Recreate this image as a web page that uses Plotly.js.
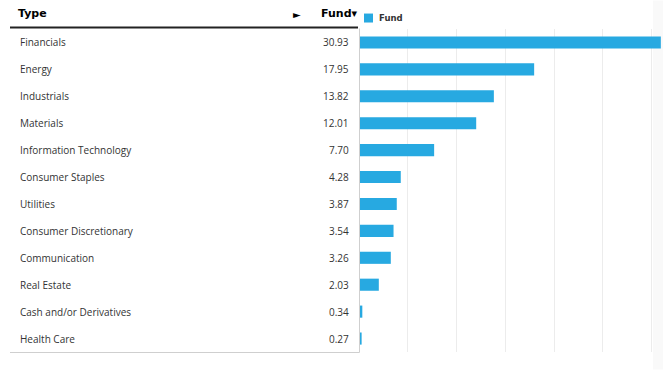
<!DOCTYPE html>
<html><head><meta charset="utf-8">
<script src="https://cdn.plot.ly/plotly-3.0.1.min.js"></script>
<style>html,body{margin:0;padding:0;background:#fff}#chart{width:663px;height:370px}</style>
</head><body><div id="chart"></div>
<script>
const categories = ["Financials","Energy","Industrials","Materials","Information Technology","Consumer Staples","Utilities","Consumer Discretionary","Communication","Real Estate","Cash and/or Derivatives","Health Care"];
const fundValues = [30.93,17.95,13.82,12.01,7.70,4.28,3.87,3.54,3.26,2.03,0.34,0.27];
const valueLabels = ["30.93","17.95","13.82","12.01","7.70","4.28","3.87","3.54","3.26","2.03","0.34","0.27"];
const seriesName = "Fund";
const barColor = "#27a9e1";

const W = 663, H = 370, L = 359, T = 28.5, B = 17.5;
const px = v => (v - L) / (W - L - 1);
const py = v => (H - B - v) / (H - T - B);
const txtFont = {family: "Open Sans, sans-serif", size: 10, color: "#333"};
const annotations = [];
categories.forEach((c, i) => {
  annotations.push({xref: "paper", yref: "y", x: px(18), y: c, text: c, showarrow: false, xanchor: "left", yanchor: "middle", font: txtFont});
  annotations.push({xref: "paper", yref: "y", x: px(351), y: c, text: valueLabels[i], showarrow: false, xanchor: "right", yanchor: "middle", font: txtFont});
});
const hdr = {family: "DejaVu Sans, sans-serif", size: 11, color: "#000", weight: 900};
annotations.push({xref: "paper", yref: "paper", x: px(16), y: py(13), text: "<b>Type</b>", showarrow: false, xanchor: "left", yanchor: "middle", font: hdr});
annotations.push({xref: "paper", yref: "paper", x: px(297), y: py(14), text: "►", showarrow: false, xanchor: "center", yanchor: "middle", font: {family: "DejaVu Sans, sans-serif", size: 10, color: "#000"}});
annotations.push({xref: "paper", yref: "paper", x: px(360), y: py(13), text: "<b>Fund▾</b>", showarrow: false, xanchor: "right", yanchor: "middle", font: hdr});
// legend
annotations.push({xref: "paper", yref: "paper", x: px(377), y: py(17), text: "<b>" + seriesName + "</b>", showarrow: false, xanchor: "left", yanchor: "middle", font: {family: "DejaVu Sans, sans-serif", size: 8.5, color: "#333"}});

const shapes = [
  {type: "line", xref: "paper", yref: "paper", x0: px(10), x1: px(358), y0: py(27), y1: py(27), line: {color: "#222", width: 2}},
  {type: "line", xref: "paper", yref: "paper", x0: px(10), x1: px(359.5), y0: py(353), y1: py(353), line: {color: "#cfcfcf", width: 1}},
  {type: "line", xref: "paper", yref: "paper", x0: px(359.5), x1: px(359.5), y0: py(28), y1: py(353), line: {color: "#cfcfcf", width: 1}},
  {type: "rect", xref: "paper", yref: "paper", x0: px(364), x1: px(373), y0: py(13), y1: py(22), fillcolor: barColor, line: {width: 0}},
  {type: "rect", xref: "paper", yref: "paper", x0: px(653), x1: px(663), y0: py(0), y1: py(370), fillcolor: "rgba(0,0,0,0.025)", line: {width: 0}, layer: "below"}
];

Plotly.newPlot("chart", [{
  type: "bar", orientation: "h", x: fundValues, y: categories, name: seriesName,
  marker: {color: barColor}, hoverinfo: "x+y"
}], {
  width: W, height: H,
  margin: {l: L, r: 1, t: T, b: B, pad: 0},
  paper_bgcolor: "#fff", plot_bgcolor: "#fff",
  bargap: 0.55,
  showlegend: false,
  xaxis: {range: [0, 31.05], dtick: 5, showgrid: true, gridcolor: "#ececec", gridwidth: 1, zeroline: false, showticklabels: false, showline: false, ticks: ""},
  yaxis: {autorange: "reversed", showticklabels: false, showgrid: false, zeroline: false, ticks: "", showline: false},
  annotations: annotations, shapes: shapes
}, {displayModeBar: false, staticPlot: true});
</script></body></html>
